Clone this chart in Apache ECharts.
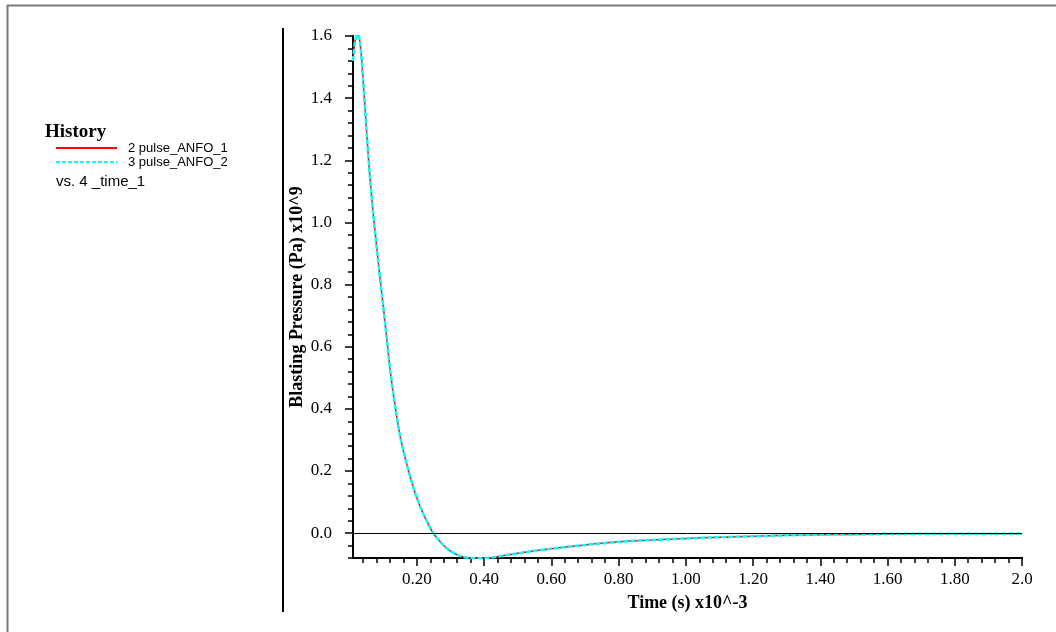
<!DOCTYPE html>
<html><head><meta charset="utf-8">
<script src="https://cdn.jsdelivr.net/npm/echarts@6/dist/echarts.min.js"></script>
<style>html,body{margin:0;padding:0;background:#fff}#c{width:1056px;height:632px}</style>
</head><body><div id="c"></div>
<script>
const time = [0.01,0.015,0.02,0.025,0.03,0.035,0.04,0.05,0.06,0.07,0.08,0.09,0.10,0.11,0.12,0.13,0.14,0.15,0.16,0.17,0.18,0.19,0.20,0.21,0.22,0.23,0.24,0.25,0.26,0.28,0.30,0.33,0.36,0.39,0.42,0.46,0.50,0.55,0.60,0.70,0.80,0.90,1.00,1.10,1.20,1.30,1.40,1.50,1.60,1.70,1.80,1.90,2.00];
const pulse1 = [1.52,1.575,1.60,1.605,1.585,1.535,1.46,1.30,1.15,1.03,0.925,0.825,0.73,0.63,0.53,0.448,0.375,0.313,0.264,0.222,0.181,0.145,0.113,0.085,0.060,0.038,0.016,-0.002,-0.016,-0.040,-0.058,-0.074,-0.080,-0.081,-0.079,-0.072,-0.065,-0.057,-0.050,-0.038,-0.028,-0.022,-0.017,-0.013,-0.010,-0.007,-0.005,-0.004,-0.003,-0.002,-0.002,-0.002,-0.002];
const pulse2 = pulse1.slice();
const seriesNames = ['2 pulse_ANFO_1','3 pulse_ANFO_2'];
const xMajorTicks = [0.2,0.4,0.6,0.8,1.0,1.2,1.4,1.6,1.8,2.0];
const xMinorTicks = [];
for (let i = 1; i <= 50; i++) xMinorTicks.push(+(i*0.04).toFixed(2));
const yMajorTicks = [0,0.2,0.4,0.6,0.8,1.0,1.2,1.4,1.6];
const yMinorTicks = [];
for (let i = -2; i <= 40; i++) yMinorTicks.push(+(i*0.04).toFixed(2));

const chart = echarts.init(document.getElementById('c'));
const serif = '"Liberation Serif","Times New Roman",serif';
const sans = '"Liberation Sans",Arial,sans-serif';
const axisBase = {
  type:'value', splitLine:{show:false},
  axisLine:{show:true, onZero:false, lineStyle:{color:'#000', width:2}}
};
chart.setOption({
  animation:false,
  grid:{left:353, right:34, top:36, bottom:74},
  xAxis:[
    Object.assign({}, axisBase, {min:0.01, max:2.0, position:'bottom',
      name:'Time (s) x10^-3', nameLocation:'middle', nameGap:36,
      nameTextStyle:{fontFamily:serif, fontSize:18, fontWeight:'bold', color:'#000'},
      axisTick:{show:true, customValues:xMinorTicks, length:5, lineStyle:{color:'#000', width:1.5}},
      axisLabel:{show:false}}),
    Object.assign({}, axisBase, {min:0.01, max:2.0, position:'bottom',
      axisTick:{show:true, customValues:xMajorTicks, length:8, lineStyle:{color:'#000', width:1.5}},
      axisLabel:{show:true, customValues:xMajorTicks, margin:13, fontFamily:serif, fontSize:17, color:'#000',
        formatter:v => Math.abs(v-2)<1e-9 ? '2.0' : v.toFixed(2)}})
  ],
  yAxis:[
    Object.assign({}, axisBase, {min:-0.08, max:1.6, position:'left',
      name:'Blasting Pressure (Pa) x10^9', nameLocation:'middle', nameGap:47,
      nameTextStyle:{fontFamily:serif, fontSize:18, fontWeight:'bold', color:'#000'},
      axisTick:{show:true, customValues:yMinorTicks, length:5, lineStyle:{color:'#000', width:1.5}},
      axisLabel:{show:false}}),
    Object.assign({}, axisBase, {min:-0.08, max:1.6, position:'left',
      axisTick:{show:true, customValues:yMajorTicks, length:8, lineStyle:{color:'#000', width:1.5}},
      axisLabel:{show:true, customValues:yMajorTicks, margin:21, fontFamily:serif, fontSize:17, color:'#000',
        formatter:v => v.toFixed(1)}})
  ],
  series:[
    {name:seriesNames[0], type:'line', xAxisIndex:0, yAxisIndex:0, showSymbol:false, smooth:0.3,
      data:time.map((t,i)=>[t,pulse1[i]]),
      lineStyle:{color:'#ff0000', width:1.5}, itemStyle:{color:'#ff0000'},
      markLine:{silent:true, symbol:'none', label:{show:false},
        lineStyle:{color:'#000', width:1, type:'solid'}, data:[{yAxis:0}]}},
    {name:seriesNames[1], type:'line', xAxisIndex:0, yAxisIndex:0, showSymbol:false, smooth:0.3,
      data:time.map((t,i)=>[t,pulse2[i]]),
      lineStyle:{color:'#00ffff', width:2.5, type:[5,2]}, itemStyle:{color:'#00ffff'}}
  ],
  graphic:[
    {type:'line', shape:{x1:7, y1:5.5, x2:1056, y2:5.5}, style:{stroke:'#7a7a7a', lineWidth:2}},
    {type:'line', shape:{x1:7.5, y1:5, x2:7.5, y2:632}, style:{stroke:'#7a7a7a', lineWidth:2}},
    {type:'line', shape:{x1:283, y1:28, x2:283, y2:612}, style:{stroke:'#000', lineWidth:2}},
    {type:'text', left:45, top:123, style:{text:'History', font:'bold 19px '+serif, fill:'#000'}},
    {type:'line', shape:{x1:56, y1:148, x2:117, y2:148}, style:{stroke:'#ff0000', lineWidth:2}},
    {type:'line', shape:{x1:56, y1:162, x2:117, y2:162}, style:{stroke:'#00ffff', lineWidth:2, lineDash:[4,2]}},
    {type:'text', left:128, top:142, style:{text:seriesNames[0], font:'13px '+sans, fill:'#000'}},
    {type:'text', left:128, top:156, style:{text:seriesNames[1], font:'13px '+sans, fill:'#000'}},
    {type:'text', left:56, top:174, style:{text:'vs. 4 _time_1', font:'15px '+sans, fill:'#000'}}
  ]
});
</script></body></html>
